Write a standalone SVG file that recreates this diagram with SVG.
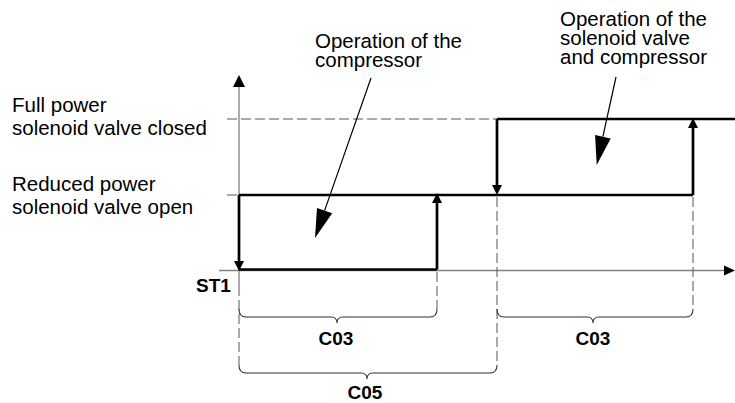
<svg xmlns="http://www.w3.org/2000/svg" width="735" height="403" viewBox="0 0 735 403">
<style>
.t{font-family:"Liberation Sans",Arial,sans-serif;font-size:20.5px;fill:#000}
.b{font-family:"Liberation Sans",Arial,sans-serif;font-size:19px;font-weight:bold;fill:#000}
.axis{stroke:#808080;stroke-width:1.3;fill:none}
.dash{stroke:#555;stroke-width:1;fill:none;stroke-dasharray:10,4}
.sig{stroke:#000;stroke-width:2.7;fill:none}
.brace{stroke:#333;stroke-width:1.1;fill:none}
.ptr{stroke:#000;stroke-width:1.2;fill:none}
.head{fill:#000;stroke:none}
</style>
<rect width="735" height="403" fill="#fff"/>
<g id="axes">
<line class="axis" x1="239" y1="84" x2="239" y2="286"/>
<polygon class="head" points="239,75 233,87 245,87"/>
<line class="axis" x1="219" y1="270.5" x2="726" y2="270.5"/>
<polygon class="head" points="735,270.5 724,265.5 724,275.5"/>
</g>
<g id="guides">
<line class="dash" x1="227" y1="119" x2="497" y2="119"/>
<line class="dash" x1="227" y1="195" x2="239" y2="195"/>
<line class="dash" x1="239" y1="286" x2="239" y2="365"/>
<line class="dash" x1="437" y1="272" x2="437" y2="309"/>
<line class="dash" x1="497" y1="197" x2="497" y2="365"/>
<line class="dash" x1="693" y1="197" x2="693" y2="309"/>
</g>
<g id="signal">
<line class="sig" x1="239" y1="195" x2="693" y2="195"/>
<line class="sig" x1="239" y1="269.5" x2="437" y2="269.5"/>
<line class="sig" x1="497" y1="119" x2="735" y2="119"/>
<line class="sig" x1="239" y1="195" x2="239" y2="262"/>
<polygon class="head" points="239,271 234,261 244,261"/>
<line class="sig" x1="437" y1="269.5" x2="437" y2="202"/>
<polygon class="head" points="437,193 432,203 442,203"/>
<line class="sig" x1="497" y1="119" x2="497" y2="186"/>
<polygon class="head" points="497,195 492,185 502,185"/>
<line class="sig" x1="693" y1="195" x2="693" y2="128"/>
<polygon class="head" points="693,118 688,128 698,128"/>
</g>
<g id="connectors">
<line class="ptr" x1="371" y1="78" x2="324.6" y2="210.6"/>
<polygon class="head" points="315,238 332.2,213.2 317,208"/>
<line class="ptr" x1="616" y1="77" x2="602.9" y2="136.7"/>
<polygon class="head" points="596.7,165 610.7,138.4 595.1,135"/>
</g>
<g id="label-full">
<text class="t" x="12" y="112">Full power</text>
<text class="t" x="12" y="135">solenoid valve closed</text>
</g>
<g id="label-reduced">
<text class="t" x="12" y="191">Reduced power</text>
<text class="t" x="12" y="214">solenoid valve open</text>
</g>
<g id="note-compressor">
<text class="t" x="315" y="48">Operation of the</text>
<text class="t" x="315" y="67">compressor</text>
</g>
<g id="note-valve">
<text class="t" x="560" y="26">Operation of the</text>
<text class="t" x="560" y="45">solenoid valve</text>
<text class="t" x="560" y="64">and compressor</text>
</g>
<g id="st1">
<text class="b" x="196" y="292">ST1</text>
</g>
<g id="c03-first">
<path class="brace" d="M239,309 Q239,317 246,317 H331 Q337,317 337,323 Q337,317 343,317 H430 Q437,317 437,309"/>
<text class="b" x="336" y="345" text-anchor="middle">C03</text>
</g>
<g id="c03-second">
<path class="brace" d="M497,309 Q497,317 504,317 H587 Q593,317 593,323 Q593,317 599,317 H686 Q693,317 693,309"/>
<text class="b" x="593" y="345" text-anchor="middle">C03</text>
</g>
<g id="c05">
<path class="brace" d="M239,365 Q239,373 246,373 H361 Q367,373 367,379 Q367,373 373,373 H490 Q497,373 497,365"/>
<text class="b" x="365" y="399" text-anchor="middle">C05</text>
</g>
</svg>
